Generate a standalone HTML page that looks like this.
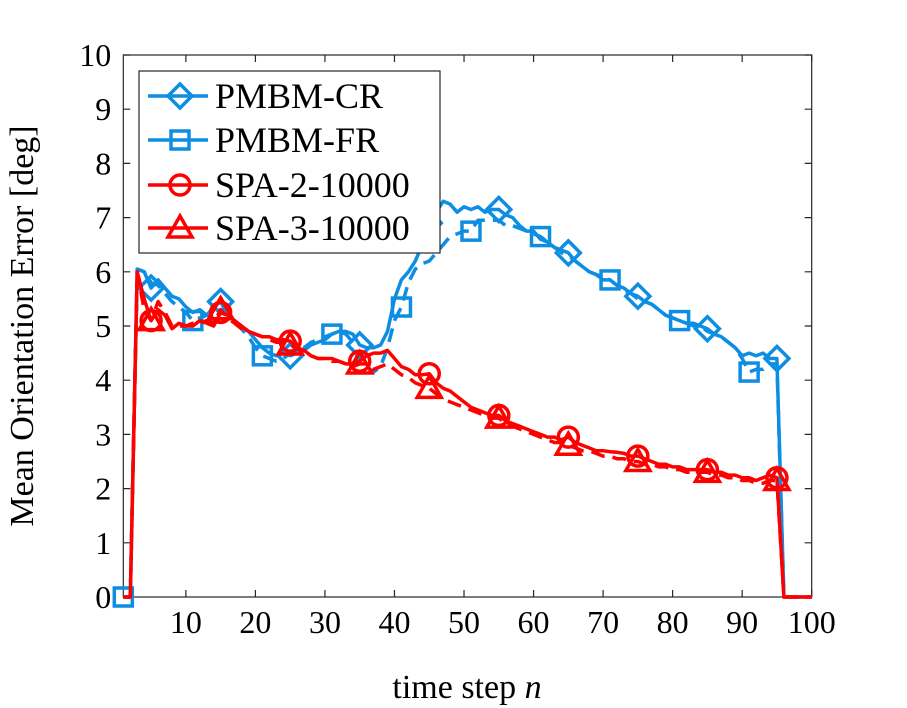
<!DOCTYPE html>
<html><head><meta charset="utf-8"><style>
html,body{margin:0;padding:0;background:#fff;}
svg{display:block;font-family:"Liberation Serif",serif;}
</style></head><body>
<svg id="chart" width="907" height="708">
<rect width="907" height="708" fill="#fff"/>
<g id="plot"></g>
</svg>
<script>
const xTicks=[10,20,30,40,50,60,70,80,90,100];
const yTicks=[0,1,2,3,4,5,6,7,8,9,10];
const steps=[];for(let i=1;i<=100;i++)steps.push(i);
const pmbmCR=[0,0,6.05,6.0,5.7,5.85,5.7,5.55,5.5,5.35,5.25,5.3,5.2,5.35,5.45,5.2,5.1,5.0,4.9,4.75,4.6,4.5,4.45,4.5,4.45,4.5,4.55,4.65,4.7,4.75,4.85,4.9,4.9,4.85,4.65,4.6,4.6,4.65,4.9,5.5,5.85,6.0,6.2,6.5,6.9,7.1,7.3,7.25,7.1,7.2,7.15,7.2,7.1,7.15,7.15,7.05,7.0,6.85,6.75,6.75,6.6,6.55,6.45,6.4,6.35,6.2,6.1,6.0,5.95,5.85,5.85,5.75,5.7,5.6,5.55,5.45,5.4,5.3,5.2,5.15,5.1,5.05,5.05,5.0,4.95,4.85,4.8,4.7,4.6,4.45,4.5,4.45,4.5,4.4,4.4,0,0,0,0,0];
const pmbmFR=[0,0,6.05,6.0,5.8,5.75,5.6,5.45,5.35,5.25,5.1,5.15,5.2,5.25,5.3,5.2,5.1,4.95,4.8,4.6,4.45,4.4,4.35,4.4,4.5,4.55,4.6,4.7,4.75,4.8,4.85,4.9,4.85,4.7,4.3,4.25,4.15,4.25,4.6,5.1,5.35,5.8,6.05,6.15,6.2,6.35,6.5,6.65,6.7,6.75,6.75,6.95,6.95,6.95,6.95,6.85,6.85,6.8,6.75,6.7,6.65,6.55,6.45,6.35,6.3,6.2,6.1,6.0,5.95,5.9,5.85,5.75,5.65,5.6,5.5,5.45,5.4,5.3,5.2,5.15,5.1,5.05,5.0,5.0,4.9,4.85,4.8,4.7,4.6,4.4,4.15,4.2,4.2,4.3,4.3,0,0,0,0,0];
const spa2=[0,0,6.0,5.5,5.1,5.3,5.2,4.95,5.05,5.0,5.0,5.1,5.05,5.0,5.25,5.2,5.1,5.0,4.9,4.85,4.8,4.8,4.75,4.75,4.72,4.6,4.55,4.45,4.4,4.4,4.4,4.35,4.3,4.3,4.35,4.45,4.5,4.5,4.55,4.4,4.25,4.2,4.1,4.1,4.12,3.95,3.85,3.8,3.7,3.6,3.5,3.45,3.4,3.35,3.35,3.25,3.2,3.15,3.1,3.05,3.0,2.95,2.95,2.9,2.95,2.85,2.8,2.75,2.7,2.7,2.68,2.67,2.65,2.6,2.6,2.55,2.5,2.45,2.45,2.4,2.4,2.35,2.35,2.35,2.35,2.3,2.3,2.25,2.25,2.2,2.2,2.15,2.2,2.25,2.2,0,0,0,0,0];
const spa3=[0,0,6.0,5.3,5.1,5.45,5.25,5.0,5.0,5.0,5.05,5.05,5.1,5.05,5.3,5.15,5.05,4.95,4.9,4.85,4.8,4.75,4.7,4.7,4.65,4.6,4.5,4.45,4.4,4.4,4.35,4.35,4.3,4.25,4.3,4.3,4.2,4.25,4.3,4.2,4.1,4.05,3.95,3.9,3.85,3.75,3.65,3.6,3.55,3.5,3.45,3.4,3.35,3.3,3.3,3.2,3.15,3.1,3.05,3.0,2.95,2.9,2.85,2.85,2.8,2.75,2.7,2.7,2.65,2.6,2.6,2.55,2.55,2.5,2.5,2.45,2.45,2.4,2.4,2.35,2.35,2.3,2.3,2.3,2.3,2.25,2.25,2.2,2.2,2.15,2.15,2.1,2.1,2.15,2.15,0,0,0,0,0];
const seriesNames=["PMBM-CR","PMBM-FR","SPA-2-10000","SPA-3-10000"];

const L=123.3,R=811.7,T=55,B=597,X0=1,X1=100,Y0=0,Y1=10;
const sx=v=>L+(v-X0)/(X1-X0)*(R-L);
const sy=v=>B-(v-Y0)/(Y1-Y0)*(B-T);
const NS="http://www.w3.org/2000/svg";
const g=document.getElementById('plot');
function mk(tag,attrs,parent){const e=document.createElementNS(NS,tag);for(const k in attrs)e.setAttribute(k,attrs[k]);(parent||g).appendChild(e);return e;}

const box=mk('rect',{x:L,y:T,width:R-L,height:B-T,fill:'none',stroke:'#262626','stroke-width':1.2});


xTicks.forEach(t=>{
  const x=sx(t);
  const tk=mk('path',{d:`M${x},${B}v-7M${x},${T}v7`,stroke:'#262626','stroke-width':1.2});
  
  
  const tx=mk('text',{x:x,y:B+36,'text-anchor':'middle','font-size':32,fill:'#000'});
  tx.textContent=t;
  
  
});
yTicks.forEach(t=>{
  const y=sy(t);
  const tk=mk('path',{d:`M${L},${y}h7M${R},${y}h-7`,stroke:'#262626','stroke-width':1.2});
  
  
  const tx=mk('text',{x:L-12,y:y+11,'text-anchor':'end','font-size':32,fill:'#000'});
  tx.textContent=t;
  
  
});
const xl=mk('text',{x:467,y:698,'text-anchor':'middle','font-size':34,fill:'#000'});
xl.innerHTML='time step <tspan font-style="italic">n</tspan>';


const yl=mk('text',{x:0,y:0,'text-anchor':'middle','font-size':34,fill:'#000',transform:'translate(33,326) rotate(-90)'});
yl.textContent='Mean Orientation Error [deg]';



const BLUE='#0d8ee3',RED='#ff0000';
function marker(type,x,y,color,parent){
  let e;
  if(type==='diamond')e=mk('path',{d:`M${x},${y-12}L${x+12},${y}L${x},${y+12}L${x-12},${y}Z`},parent);
  else if(type==='square')e=mk('rect',{x:x-9,y:y-9,width:18,height:18},parent);
  else if(type==='circle')e=mk('circle',{cx:x,cy:y,r:10},parent);
  else e=mk('path',{d:`M${x},${y-12}L${x+12},${y+9}L${x-12},${y+9}Z`},parent);
  e.setAttribute('fill','none');e.setAttribute('stroke',color);e.setAttribute('stroke-width',3.5);
  return e;
}
const cfg=[
 {d:pmbmCR,c:BLUE,dash:'',m:'diamond',start:5,name:'pmbm-cr'},
 {d:pmbmFR,c:BLUE,dash:'14,8',m:'square',start:1,name:'pmbm-fr'},
 {d:spa2,c:RED,dash:'',m:'circle',start:5,name:'spa-2-10000'},
 {d:spa3,c:RED,dash:'14,8',m:'triangle',start:5,name:'spa-3-10000'}
];
cfg.forEach(s=>{
  const grp=mk('g',{});
  
  
  const pts=s.d.map((v,i)=>sx(steps[i]).toFixed(1)+','+sy(v).toFixed(1)).join(' ');
  const pl=mk('polyline',{points:pts,fill:'none',stroke:s.c,'stroke-width':3.5,'stroke-linejoin':'round','stroke-dasharray':s.dash},grp);
  
  
  for(let i=s.start-1;i<s.d.length;i+=10){
    if(i>95)break;
    const mm=marker(s.m,sx(steps[i]),sy(s.d[i]),s.c,grp);
    
    
  }
});

const lg=mk('g',{});


mk('rect',{x:139,y:71,width:301,height:182,fill:'#fff',stroke:'#262626','stroke-width':1.2},lg);
const ly=[96,140,185,228];
cfg.forEach((s,i)=>{
  const e=mk('g',{},lg);
  
  
  mk('line',{x1:148,x2:208,y1:ly[i],y2:ly[i],stroke:s.c,'stroke-width':3.5},e);
  marker(s.m,180,ly[i],s.c,e);
  const t=mk('text',{x:215,y:ly[i]+12,'font-size':36,fill:'#000'},e);
  t.textContent=seriesNames[i];
});
</script>
</body></html>
